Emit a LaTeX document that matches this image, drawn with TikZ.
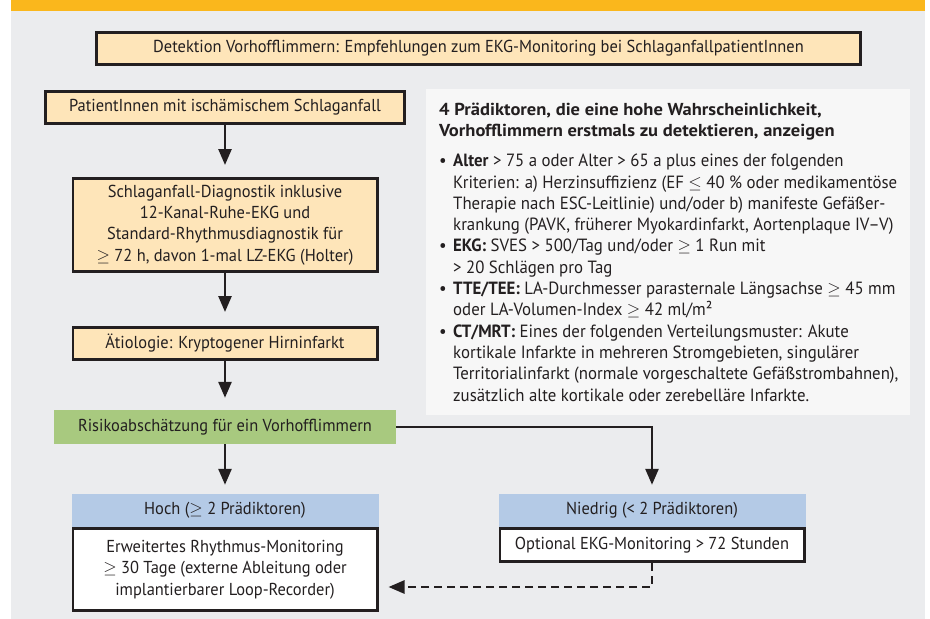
\documentclass[tikz,border=0pt]{standalone}
\usepackage{fontspec}
\setmainfont{PT Sans}[FakeStretch=0.95]
\newfontfamily\kopfschrift{PT Sans}[FakeStretch=1.07]
\usetikzlibrary{arrows.meta}
\usetikzlibrary{positioning}
\definecolor{balken}{RGB}{250,183,28}
\definecolor{grund}{RGB}{235,236,238}
\definecolor{pfirsich}{RGB}{254,229,185}
\definecolor{rahmen}{RGB}{35,31,32}
\definecolor{gruen}{RGB}{168,201,127}
\definecolor{blau}{RGB}{180,202,230}
\definecolor{hinweis}{RGB}{247,247,247}
\tikzstyle{schritt} = [rectangle, draw=rahmen, line width=2.6pt, fill=pfirsich,
                       minimum width=304.4pt, minimum height=32.4pt, inner sep=0pt, align=center]
\tikzstyle{risiko} = [rectangle, fill=gruen, minimum width=342pt, minimum height=34pt,
                      inner sep=0pt, align=center]
\tikzstyle{kopf} = [rectangle, fill=blau, minimum width=307pt, minimum height=33pt,
                    inner sep=0pt, align=center]
\tikzstyle{inhalt} = [rectangle, draw=rahmen, line width=2.6pt, fill=white,
                      minimum width=304.4pt, inner sep=0pt, align=center]
\tikzstyle{zurueck} = [{Triangle[length=16pt,width=13pt]}-, line width=2.6pt, draw=rahmen]
\tikzstyle{pfeil} = [-{Triangle[length=16pt,width=13pt]}, line width=2.6pt, draw=rahmen]
\newcommand{\punkt}{\makebox[14pt][l]{\textbullet}}
\newcommand{\weiter}{\hspace*{14pt}}
\newcommand{\kopfzeile}[1]{{\fontsize{17.3}{21.3}\selectfont\kopfschrift\bfseries #1}}
\begin{document}
\begin{tikzpicture}[x=1pt, y=1pt, text=rahmen, font=\fontsize{17.3}{21.3}\selectfont]
    \useasboundingbox (0,0) rectangle (930,-619);
    \fill[grund] (11,-11) rectangle (925,-619);
    \fill[balken] (11,0) rectangle (925,-11);
    \node[schritt, minimum width=764.4pt] (titel) at (478.5,-48.5) {Detektion Vorhofflimmern: Empfehlungen zum EKG-Monitoring bei SchlaganfallpatientInnen};
    \node[schritt, minimum width=359.4pt] (patient) at (225,-107.5) {PatientInnen mit ischämischem Schlaganfall};
    \node[schritt, minimum height=93.4pt] (diagnostik) [below of=patient,node distance=117.5pt] {Schlaganfall-Diagnostik inklusive\\12-Kanal-Ruhe-EKG und\\Standard-Rhythmusdiagnostik für\\$\geq$ 72 h, davon 1-mal LZ-EKG (Holter)} edge [zurueck,shorten <=12pt] (patient);
    \node[schritt] (aetiologie) [below of=diagnostik,node distance=118.5pt] {Ätiologie: Kryptogener Hirninfarkt} edge [zurueck,shorten <=14pt] (diagnostik);
    \node[risiko] (abschaetzung) [below of=aetiologie,node distance=83.5pt] {Risikoabschätzung für ein Vorhofflimmern} edge [zurueck,shorten <=12pt] (aetiologie);
    \node[kopf] (hochkopf) [below of=abschaetzung,node distance=83.5pt] {Hoch ($\geq$ 2 Prädiktoren)} edge [zurueck,shorten <=9pt] (abschaetzung);
    \node[inhalt, minimum height=82.4pt] (hochtext) [below of=hochkopf,node distance=59pt] {Erweitertes Rhythmus-Monitoring\\$\geq$ 30 Tage (externe Ableitung oder\\implantierbarer Loop-Recorder)};
    \node[kopf] (niedrigkopf) [right of=hochkopf,node distance=427pt] {Niedrig (< 2 Prädiktoren)};
    \node[inhalt, minimum height=33.4pt] (niedrigtext) [below of=niedrigkopf,node distance=34.5pt] {Optional EKG-Monitoring > 72 Stunden};
    \draw[pfeil, shorten >=9pt] (abschaetzung.east) -| (niedrigkopf.north);
    \draw[pfeil, dash pattern=on 8pt off 5pt, shorten >=10pt] (niedrigtext.south) |- ([yshift=-17.5pt]hochtext.east);
    % Praediktoren
    \node[rectangle, fill=hinweis, minimum width=484pt, minimum height=326pt, inner sep=0pt, anchor=north west] (hinweis) at (426,-89) {};
    \node[anchor=north west, inner sep=0pt, align=left, font=\fontsize{17.7}{21.3}\selectfont] (praediktoren) at ([xshift=13pt,yshift=-13.5pt]hinweis.north west) {%
      \kopfzeile{4 Prädiktoren, die eine hohe Wahrscheinlichkeit,}\\
      \kopfzeile{Vorhofflimmern erstmals zu detektieren, anzeigen}\\[9pt]
      \punkt\textbf{Alter} > 75 a oder Alter > 65 a plus eines der folgenden\\
      \weiter Kriterien: a) Herzinsuffizienz (EF $\leq$ 40 \% oder medikamentöse\\
      \weiter Therapie nach ESC-Leitlinie) und/oder b) manifeste Gefäßer-\\
      \weiter krankung (PAVK, früherer Myokardinfarkt, Aortenplaque IV--V)\\
      \punkt\textbf{EKG:} SVES > 500/Tag und/oder $\geq$ 1 Run mit\\
      \weiter > 20 Schlägen pro Tag\\
      \punkt\textbf{TTE/TEE:} LA-Durchmesser parasternale Längsachse $\geq$ 45 mm\\
      \weiter oder LA-Volumen-Index $\geq$ 42 ml/m²\\
      \punkt\textbf{CT/MRT:} Eines der folgenden Verteilungsmuster: Akute\\
      \weiter kortikale Infarkte in mehreren Stromgebieten, singulärer\\
      \weiter Territorialinfarkt (normale vorgeschaltete Gefäßstrombahnen),\\
      \weiter zusätzlich alte kortikale oder zerebelläre Infarkte.};
\end{tikzpicture}
\end{document}
